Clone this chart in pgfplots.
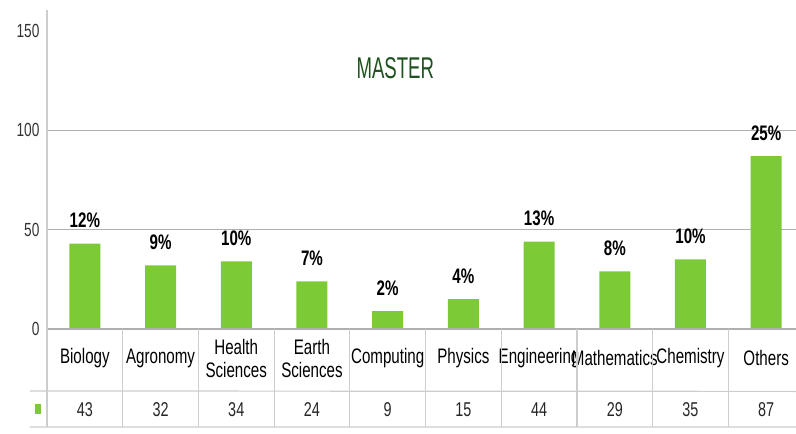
\documentclass[border=0pt]{standalone}
\usepackage{fontspec}
\setmainfont{Liberation Sans}[FakeStretch=0.72]
\newfontfamily\titlefont{Liberation Sans}[FakeStretch=0.62]
\usepackage{pgfplots}
\usepackage{pgfplotstable}
\pgfplotsset{compat=1.18}
\definecolor{barGreen}{RGB}{125,202,55}
\definecolor{titleGreen}{RGB}{30,82,30}
\definecolor{gridGray}{RGB}{175,175,175}
\definecolor{tabGray}{RGB}{205,205,205}

\pgfplotstableread{
x val pct
0 43 12
1 32 9
2 34 10
3 24 7
4 9 2
5 15 4
6 44 13
7 29 8
8 35 10
9 87 25
}\master

\begin{document}
\begin{tikzpicture}
\begin{axis}[
  scale only axis, width=749pt, height=298pt,
  xmin=-0.5, xmax=9.394, ymin=0, ymax=150,
  clip=false,
  axis line style={draw=none},
  major tick length=0pt,
  ytick={0,50,100}, extra y ticks={150}, extra y tick style={grid=none},
  ymajorgrids, grid style={gridGray, line width=1.6pt},
  yticklabel style={font=\fontsize{19}{19}\selectfont, text=black!80, xshift=-4pt},
  /pgf/number format/assume math mode=true,
  xtick={0,...,9},
  xticklabels={Biology, Agronomy, {Health\\Sciences}, {Earth\\Sciences}, Computing, Physics, Engineering, Mathematics, Chemistry, Others},
  xticklabel style={font=\fontsize{21}{23}\selectfont, align=center, anchor=center, yshift=-29pt, text=black},
  extra x ticks={0,...,9},
  extra x tick labels={43,32,34,24,9,15,44,29,35,87},
  extra x tick style={xticklabel style={font=\fontsize{20}{20}\selectfont, yshift=-51.5pt, text=black!85}},
  ybar, bar width=31pt,
]
\addplot[ybar, fill=barGreen, draw=none,
  nodes near coords={\pgfplotspointmeta\%},
  point meta=explicit symbolic,
  nodes near coords style={font=\bfseries\fontsize{21}{21}\selectfont, text=black, yshift=12pt}]
  table[x=x, y=val, meta=pct]{\master};
\draw[gridGray, line width=1.6pt] (axis cs:-0.5,0) -- (rel axis cs:1,0);
\draw[tabGray, line width=1.2pt] (axis cs:-0.5,160.5) -- (axis cs:-0.5,-49.3);
\draw[tabGray, line width=1.2pt] (axis cs:-0.725,-31.2) -- (rel axis cs:1,-0.2094);
\draw[tabGray, line width=1.2pt] (axis cs:-0.725,-49.3) -- (rel axis cs:1,-0.3287);
\pgfplotsinvokeforeach{0.5,1.5,2.5,3.5,4.5,5.5,6.5,7.5,8.5}{
  \draw[tabGray, line width=1.2pt] (axis cs:#1,0) -- (axis cs:#1,-49.3);
}
\node[fill=barGreen, inner sep=0pt, minimum width=6pt, minimum height=10pt] at (axis cs:-0.619,-40.5) {};
\node[text=titleGreen, font=\titlefont\fontsize{30}{30}\selectfont] at (rel axis cs:0.465,0.876) {MASTER};
\coordinate (bbsw) at (axis cs:-0.5,0);
\coordinate (bbne) at (rel axis cs:1,1);
\end{axis}
\pgfresetboundingbox
\path[use as bounding box] ([shift={(-47pt,-104pt)}]bbsw) rectangle ([shift={(0pt,31pt)}]bbne);
\end{tikzpicture}
\end{document}
